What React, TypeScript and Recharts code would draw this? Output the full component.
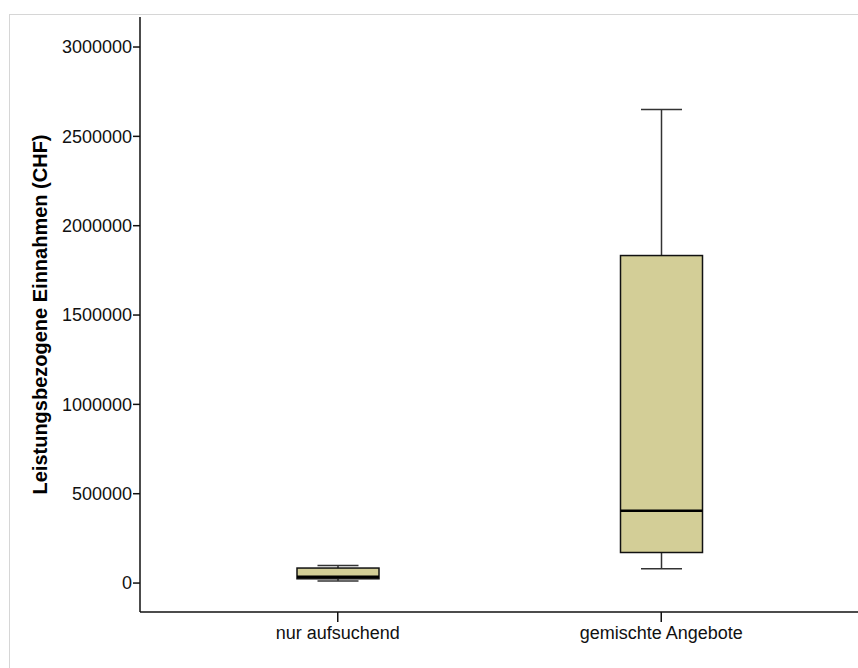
import { ComposedChart, Bar, XAxis, YAxis, Label } from "recharts"

// Gruppen und Boxplot-Kennwerte (CHF)
const categories = ["nur aufsuchend", "gemischte Angebote"]
const minValues = [12000, 80000]
const q1Values = [24000, 171000]
const medianValues = [35000, 405000]
const q3Values = [84000, 1833000]
const maxValues = [98000, 2650000]
const yTicks = [0, 500000, 1000000, 1500000, 2000000, 2500000, 3000000]

type BoxRow = {
  name: string
  min: number
  q1: number
  median: number
  q3: number
  max: number
}

const data: BoxRow[] = categories.map((name, i) => ({
  name,
  min: minValues[i],
  q1: q1Values[i],
  median: medianValues[i],
  q3: q3Values[i],
  max: maxValues[i],
}))

const BOX_FILL = "#D3CE97"

// zeichnet eine Box aus dem Bereich [min, max], den Recharts schon skaliert hat
const BoxShape = (props: any) => {
  const { x, y, width, height, payload } = props
  if (payload == null || !height) return null
  const p: BoxRow = payload
  const perUnit = height / (p.max - p.min)
  const toY = (v: number) => y + (p.max - v) * perUnit
  const cx = x + width / 2
  const capHalf = width / 4
  const yMax = toY(p.max)
  const yQ3 = toY(p.q3)
  const yMed = toY(p.median)
  const yQ1 = toY(p.q1)
  const yMin = toY(p.min)
  return (
    <g>
      <line x1={cx} x2={cx} y1={yMax} y2={yQ3} stroke="#333" strokeWidth={1.5} />
      <line x1={cx} x2={cx} y1={yQ1} y2={yMin} stroke="#333" strokeWidth={1.5} />
      <line x1={cx - capHalf} x2={cx + capHalf} y1={yMax} y2={yMax} stroke="#333" strokeWidth={1.5} />
      <line x1={cx - capHalf} x2={cx + capHalf} y1={yMin} y2={yMin} stroke="#333" strokeWidth={1.5} />
      <rect x={x} y={yQ3} width={width} height={yQ1 - yQ3} fill={BOX_FILL} stroke="#111" strokeWidth={1.5} />
      <line x1={x} x2={x + width} y1={yMed} y2={yMed} stroke="#000" strokeWidth={2.5} />
    </g>
  )
}

export default function App() {
  return (
    <div style={{ position: "absolute", left: 0, top: 0, width: 858, height: 668, overflow: "hidden", background: "#fff" }}>
      <div
        style={{
          position: "absolute",
          left: 9,
          top: 14,
          width: 900,
          height: 700,
          border: "1px solid #d6d6d6",
        }}
      />
      <div style={{ position: "absolute", left: 0, top: 0 }}>
        <ComposedChart
          width={870}
          height={668}
          data={data}
          margin={{ top: 17, right: 11, bottom: 16, left: 60 }}
          style={{ fontFamily: "'Liberation Sans', Arial, sans-serif" }}
        >
          <XAxis
            dataKey="name"
            type="category"
            padding={{ left: 36, right: 36 }}
            height={40}
            axisLine={{ stroke: "#111", strokeWidth: 1.5 }}
            tickLine={{ stroke: "#111", strokeWidth: 1.5 }}
            tickSize={10}
            tickMargin={4}
            tick={{ fill: "#111", fontSize: 18 }}
            interval={0}
          />
          <XAxis
            xAxisId="top"
            dataKey="name"
            orientation="top"
            height={0}
            tick={false}
            tickLine={false}
            axisLine={{ stroke: "#111", strokeWidth: 1.5 }}
          />
          <YAxis
            type="number"
            domain={[-162000, 3168000]}
            ticks={yTicks}
            allowDataOverflow
            width={80}
            axisLine={{ stroke: "#111", strokeWidth: 1.5 }}
            tickLine={{ stroke: "#111", strokeWidth: 1.5 }}
            tickSize={7}
            tickMargin={1}
            tick={{ fill: "#111", fontSize: 18 }}
          >
            <Label
              value="Leistungsbezogene Einnahmen (CHF)"
              angle={-90}
              position="center"
              dx={-60}
              style={{ fontSize: 20, fontWeight: "bold", fill: "#000", textAnchor: "middle" }}
            />
          </YAxis>
          <Bar
            dataKey={(d: BoxRow) => [d.min, d.max]}
            barSize={82}
            shape={BoxShape}
            isAnimationActive={false}
          />
        </ComposedChart>
      </div>
    </div>
  )
}
